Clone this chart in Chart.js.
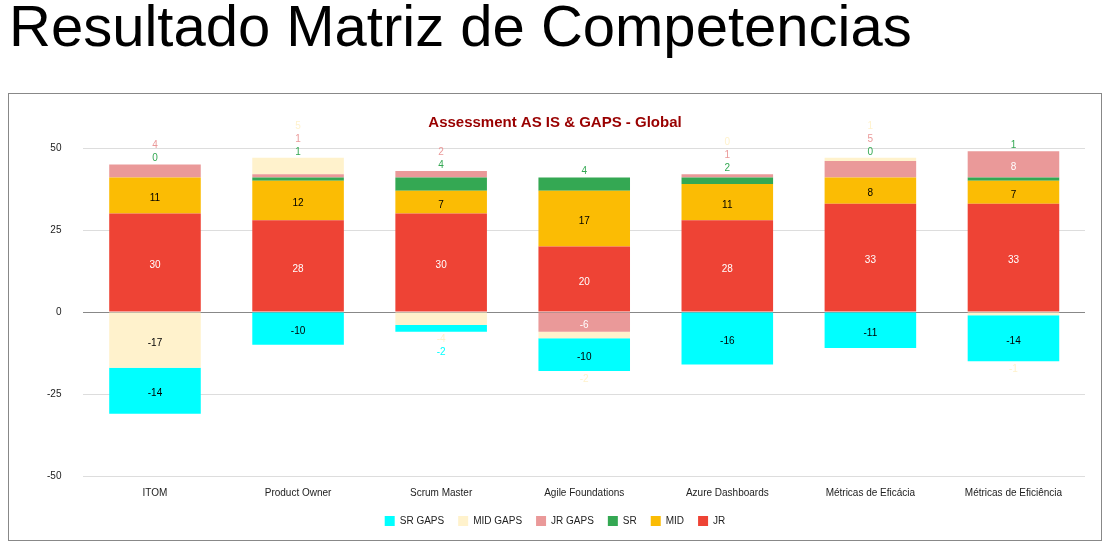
<!DOCTYPE html>
<html>
<head>
<meta charset="utf-8">
<script src="https://cdn.jsdelivr.net/npm/chart.js@4"></script>
<style>
  body { margin: 0; background: #fff; font-family: "Liberation Sans", Arial, sans-serif; }
  h1 { position: absolute; left: 9px; top: -9px; margin: 0; font-weight: normal; font-size: 58px; line-height: 70px; color: #000; white-space: nowrap; }
  #frame { position: absolute; left: 8px; top: 93px; width: 1092px; height: 446px; border: 1px solid #888; }
</style>
</head>
<body>
<h1>Resultado Matriz de Competencias</h1>
<div id="frame"><canvas id="myChart" width="1092" height="446"></canvas></div>
<script>
const categories = ["ITOM", "Product Owner", "Scrum Master", "Agile Foundations", "Azure Dashboards", "Métricas de Eficácia", "Métricas de Eficiência"];
const jr = [30, 28, 30, 20, 28, 33, 33];
const mid = [11, 12, 7, 17, 11, 8, 7];
const sr = [0, 1, 4, 4, 2, 0, 1];
const jrGaps = [4, 1, 2, -6, 1, 5, 8];
const midGaps = [-17, 5, -4, -2, 0, 1, -1];
const srGaps = [-14, -10, -2, -10, -16, -11, -14];
const yTicks = [-50, -25, 0, 25, 50];

const series = [
  { label: "JR", data: jr, color: "#ee4335", text: "#fff" },
  { label: "MID", data: mid, color: "#fbbc04", text: "#000" },
  { label: "SR", data: sr, color: "#34a853", text: "#fff" },
  { label: "JR GAPS", data: jrGaps, color: "#ea9999", text: "#fff" },
  { label: "MID GAPS", data: midGaps, color: "#fff2cc", text: "#000" },
  { label: "SR GAPS", data: srGaps, color: "#00ffff", text: "#000" },
];

const labelPlugin = {
  id: "segLabels",
  afterDatasetsDraw(chart) {
    const c = chart.ctx;
    c.save();
    c.font = "10px 'Liberation Sans', Arial";
    c.textAlign = "center";
    c.textBaseline = "middle";
    categories.forEach((cat, i) => {
      let up = 0, down = 0, top = null, bottom = null;
      chart.data.datasets.forEach((ds, d) => {
        const el = chart.getDatasetMeta(d).data[i];
        if (ds.data[i] >= 0) top = top === null ? el.y : Math.min(top, el.y);
        else bottom = bottom === null ? el.y : Math.max(bottom, el.y);
      });
      chart.data.datasets.forEach((ds, d) => {
        const el = chart.getDatasetMeta(d).data[i];
        const v = ds.data[i];
        const h = Math.abs(el.base - el.y);
        if (h >= 18) {
          c.fillStyle = series[d].text;
          c.fillText(v, el.x, (el.y + el.base) / 2 + 3);
        } else {
          c.fillStyle = series[d].color;
          if (v >= 0) { c.fillText(v, el.x, top - 6 - up * 13); up++; }
          else { c.fillText(v, el.x, bottom + 8 + down * 13); down++; }
        }
      });
    });
    c.restore();
  }
};

new Chart(document.getElementById("myChart"), {
  type: "bar",
  data: {
    labels: categories,
    datasets: series.map((s) => ({
      label: s.label,
      data: s.data,
      backgroundColor: s.color,
      borderWidth: 0,
      barPercentage: 0.64,
      categoryPercentage: 1,
    })),
  },
  options: {
    responsive: false,
    animation: false,
    layout: { padding: { left: 16, right: 16, top: 8, bottom: 4 } },
    scales: {
      x: {
        stacked: true,
        grid: { display: false },
        border: { display: false },
        ticks: { color: "#222", font: { size: 10, family: "'Liberation Sans', Arial" } },
      },
      y: {
        stacked: true,
        min: -50,
        max: 50,
        afterBuildTicks: (axis) => { axis.ticks = yTicks.map((v) => ({ value: v })); },
        grid: { color: (ctx) => (ctx.tick.value === 0 ? "#888" : "#ddd"), drawTicks: false },
        border: { display: false },
        ticks: { color: "#222", padding: 22, font: { size: 10, family: "'Liberation Sans', Arial" } },
      },
    },
    plugins: {
      title: {
        display: true,
        text: "Assessment AS IS & GAPS - Global",
        color: "#990000",
        font: { size: 15, weight: "bold", family: "'Liberation Sans', Arial" },
        padding: { top: 12, bottom: 16 },
      },
      legend: {
        position: "bottom",
        reverse: true,
        labels: { boxWidth: 10, boxHeight: 10, color: "#222", padding: 14, font: { size: 10, family: "'Liberation Sans', Arial" } },
      },
      tooltip: { enabled: false },
    },
  },
  plugins: [labelPlugin],
});
</script>
</body>
</html>
